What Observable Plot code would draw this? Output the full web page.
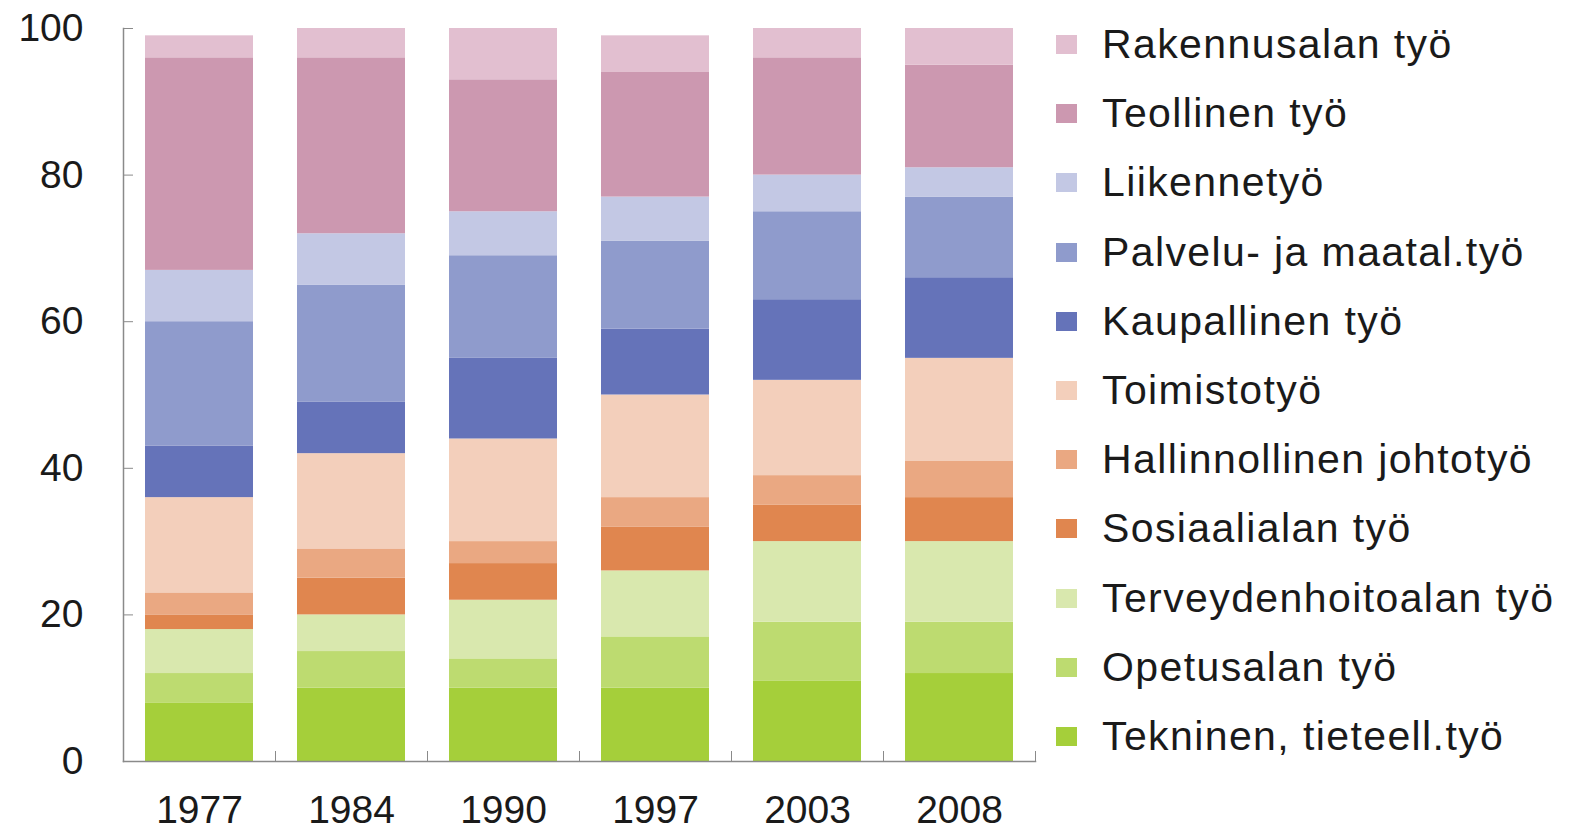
<!DOCTYPE html>
<html>
<head>
<meta charset="utf-8">
<script src="https://cdn.jsdelivr.net/npm/d3@7"></script>
<script src="https://cdn.jsdelivr.net/npm/@observablehq/plot@0.6"></script>
<style>
  html, body { margin: 0; padding: 0; background: #fff; }
  #wrap { position: relative; width: 1569px; height: 830px; overflow: hidden; }
  #chart { position: absolute; left: 0; top: 0; }
  #legend { position: absolute; left: 1056px; top: 10px; font-family: "Liberation Sans", Arial, sans-serif; color: #1a1a1a; }
  .row { height: 69.2px; display: flex; align-items: center; white-space: nowrap; }
  .sw { width: 21px; height: 19px; margin-right: 25px; flex: none; }
  .lab { font-size: 41px; letter-spacing: 1.4px; }
</style>
</head>
<body>
<div id="wrap"><div id="chart"></div><div id="legend"></div></div>
<script>
const years = ["1977", "1984", "1990", "1997", "2003", "2008"];
// categories listed bottom → top of the stack
const categories = [
  "Tekninen, tieteell.työ",
  "Opetusalan työ",
  "Terveydenhoitoalan työ",
  "Sosiaalialan työ",
  "Hallinnollinen johtotyö",
  "Toimistotyö",
  "Kaupallinen työ",
  "Palvelu- ja maatal.työ",
  "Liikennetyö",
  "Teollinen työ",
  "Rakennusalan työ"
];
const colors = ["#a5cf3a", "#bddb70", "#d9e8ae", "#e0864f", "#eaa882", "#f3cfbb", "#6573b9", "#8f9bcc", "#c3c8e4", "#cc98b0", "#e2bfd0"];
const tekninen      = [8, 10, 10, 10, 11, 12];
const opetus        = [4, 5, 4, 7, 8, 7];
const terveys       = [6, 5, 8, 9, 11, 11];
const sosiaali      = [2, 5, 5, 6, 5, 6];
const hallinnollinen= [3, 4, 3, 4, 4, 5];
const toimisto      = [13, 13, 14, 14, 13, 14];
const kaupallinen   = [7, 7, 11, 9, 11, 11];
const palvelu       = [17, 16, 14, 12, 12, 11];
const liikenne      = [7, 7, 6, 6, 5, 4];
const teollinen     = [29, 24, 18, 17, 16, 14];
const rakennus      = [3, 4, 7, 5, 4, 5];
const yTicks = [0, 20, 40, 60, 80, 100];

const series = [tekninen, opetus, terveys, sosiaali, hallinnollinen, toimisto, kaupallinen, palvelu, liikenne, teollinen, rakennus];
const data = [];
categories.forEach((c, i) => years.forEach((y, j) => data.push({year: y, category: c, value: series[i][j]})));

const W = 1040, ML = 123, MR = 5;
const step = (W - ML - MR) / years.length;
const axisColor = "#8a8a8a";

const chart = Plot.plot({
  width: W, height: 830,
  marginLeft: ML, marginRight: MR, marginTop: 28, marginBottom: 69,
  x: {domain: years, paddingInner: 0.29, paddingOuter: 0.145, label: null},
  y: {domain: [0, 100], label: null},
  color: {domain: categories, range: colors},
  style: {fontFamily: "Liberation Sans, Arial, sans-serif", fontSize: "39px", color: "#1a1a1a", background: "white"},
  marks: [
    Plot.barY(data, {x: "year", y: "value", fill: "category", order: categories}),
    Plot.axisY({ticks: yTicks, tickSize: 0, tickPadding: 40, fontSize: 39, label: null, fill: "#1a1a1a"}),
    Plot.axisY({ticks: yTicks, tickSize: 10, dx: 10, tickFormat: () => "", label: null, stroke: axisColor}),
    Plot.axisX({tickSize: 0, tickPadding: 34, fontSize: 39, label: null, fill: "#1a1a1a"}),
    Plot.axisX({tickSize: 10, dy: -10, dx: step / 2, tickFormat: () => "", label: null, stroke: axisColor}),
    Plot.frame({anchor: "left", stroke: axisColor, strokeWidth: 1.5}),
    Plot.frame({anchor: "bottom", stroke: axisColor, strokeWidth: 1.5})
  ]
});
document.getElementById("chart").appendChild(chart);

const legend = document.getElementById("legend");
categories.map((c, i) => ({c, col: colors[i]})).reverse().forEach(({c, col}) => {
  const row = document.createElement("div");
  row.className = "row";
  const sw = document.createElement("div");
  sw.className = "sw";
  sw.style.background = col;
  const lab = document.createElement("span");
  lab.className = "lab";
  lab.textContent = c;
  row.appendChild(sw);
  row.appendChild(lab);
  legend.appendChild(row);
});
</script>
</body>
</html>
